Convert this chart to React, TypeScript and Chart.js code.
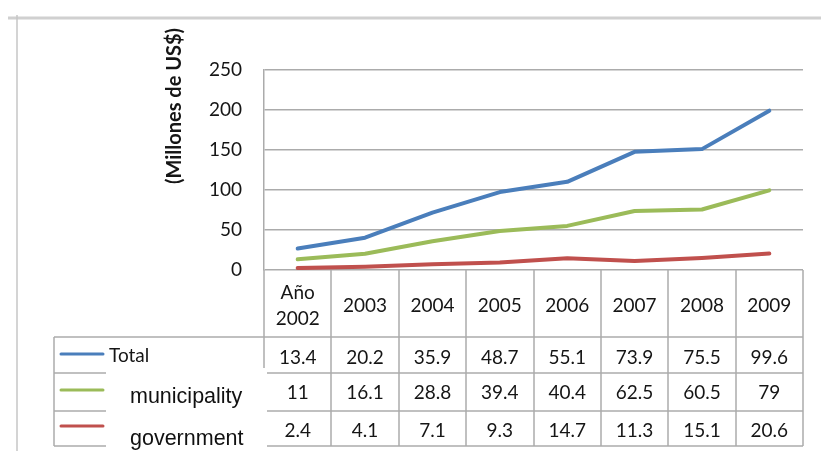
import React, { useEffect, useRef } from "react";
import { Chart, registerables } from "chart.js";

Chart.register(...registerables);

// Categories (first column header spans two lines)
const yearLabels: (string | string[])[] = [["Año", "2002"], "2003", "2004", "2005", "2006", "2007", "2008", "2009"];

// Series values (plotted stacked: government, then municipality, then Total on top)
const totalValues = [13.4, 20.2, 35.9, 48.7, 55.1, 73.9, 75.5, 99.6];
const municipalityValues = [11, 16.1, 28.8, 39.4, 40.4, 62.5, 60.5, 79];
const governmentValues = [2.4, 4.1, 7.1, 9.3, 14.7, 11.3, 15.1, 20.6];

const yTickValues = [0, 50, 100, 150, 200, 250];
const axisTitle = "(Millones de US$)";

const seriesNames = ["Total", "municipality", "government"];
const seriesColors = ["#4A7EBB", "#9BBB59", "#C0504D"];

const TEXT = "#151515";
const GRID = "#ababab";
const NUM_FONT = "Lato, 'Open Sans', sans-serif";
const BOX_FONT = "'Liberation Sans', Arial, sans-serif";

const framePlugin = {
  id: "frameAndTitle",
  beforeDraw(chart: any) {
    const ctx = chart.ctx as CanvasRenderingContext2D;
    ctx.save();
    ctx.fillStyle = "#ffffff";
    ctx.fillRect(0, 0, chart.width, chart.height);
    // outer frame edges
    ctx.strokeStyle = "#d0d0d0";
    ctx.lineWidth = 3;
    ctx.beginPath();
    ctx.moveTo(8, 18);
    ctx.lineTo(chart.width, 18);
    ctx.stroke();
    ctx.strokeStyle = "#c6c6c6";
    ctx.lineWidth = 1.5;
    ctx.beginPath();
    ctx.moveTo(17, 15);
    ctx.lineTo(17, chart.height);
    ctx.stroke();
    // vertical axis title
    ctx.translate(175, 106);
    ctx.rotate(-Math.PI / 2);
    ctx.font = `bold 20px ${NUM_FONT}`;
    ctx.fillStyle = TEXT;
    ctx.textAlign = "center";
    ctx.textBaseline = "middle";
    ctx.fillText(axisTitle, 0, 0);
    ctx.restore();
  },
};

const tablePlugin = {
  id: "dataTable",
  afterDraw(chart: any) {
    const ctx = chart.ctx as CanvasRenderingContext2D;
    const area = chart.chartArea;
    const xs = chart.scales.x;
    const n = yearLabels.length;
    const colW = (area.right - area.left) / n;
    const top = area.bottom;
    const headerBottom = top + 67;
    const rowLines = [headerBottom, headerBottom + 36, headerBottom + 74, headerBottom + 109];
    const legendLeft = 54;
    const tableRows = [totalValues, municipalityValues, governmentValues];
    const valueBaselines = [headerBottom + 27, headerBottom + 62, headerBottom + 100];

    ctx.save();
    ctx.strokeStyle = GRID;
    ctx.lineWidth = 1.5;
    // column borders
    for (let i = 0; i <= n; i++) {
      const bx = Math.round(xs.getPixelForValue(0) - colW / 2 + i * colW);
      ctx.beginPath();
      ctx.moveTo(bx, top);
      ctx.lineTo(bx, rowLines[rowLines.length - 1]);
      ctx.stroke();
    }
    // row borders
    for (const y of rowLines) {
      ctx.beginPath();
      ctx.moveTo(legendLeft, y);
      ctx.lineTo(area.right, y);
      ctx.stroke();
    }
    ctx.beginPath();
    ctx.moveTo(legendLeft, rowLines[0]);
    ctx.lineTo(legendLeft, rowLines[rowLines.length - 1]);
    ctx.stroke();

    // header labels
    ctx.fillStyle = TEXT;
    ctx.textAlign = "center";
    ctx.textBaseline = "alphabetic";
    ctx.font = `19px ${NUM_FONT}`;
    yearLabels.forEach((lab, i) => {
      const cx = xs.getPixelForValue(i);
      if (Array.isArray(lab)) {
        ctx.fillText(lab[0], cx, top + 29);
        ctx.fillText(lab[1], cx, top + 55);
      } else {
        ctx.fillText(lab, cx, top + 42);
      }
    });

    // cell values
    tableRows.forEach((vals, r) => {
      vals.forEach((v, i) => {
        ctx.fillText(String(v), xs.getPixelForValue(i), valueBaselines[r]);
      });
    });

    // legend keys
    const keyY = [354, 390, 426];
    ctx.lineWidth = 3;
    ctx.lineCap = "round";
    seriesColors.forEach((c, r) => {
      ctx.strokeStyle = c;
      ctx.beginPath();
      ctx.moveTo(61, keyY[r]);
      ctx.lineTo(103, keyY[r]);
      ctx.stroke();
    });
    ctx.textAlign = "left";
    ctx.fillStyle = TEXT;
    ctx.font = `19px ${NUM_FONT}`;
    ctx.fillText(seriesNames[0], 109, 362);

    // overlaid text box with the other series names
    ctx.fillStyle = "#ffffff";
    ctx.fillRect(106, 368, 161, chart.height - 368);
    ctx.fillStyle = "#111111";
    ctx.font = `21.5px ${BOX_FONT}`;
    ctx.fillText(seriesNames[1], 130, 403);
    ctx.fillText(seriesNames[2], 130, 445);
    ctx.restore();
  },
};

export default function App() {
  const canvasRef = useRef<HTMLCanvasElement | null>(null);

  useEffect(() => {
    const canvas = canvasRef.current;
    if (!canvas) return;
    const lineStyle = {
      fill: false,
      borderWidth: 4,
      pointRadius: 0,
      pointHoverRadius: 0,
      tension: 0,
      borderCapStyle: "round" as const,
      borderJoinStyle: "round" as const,
    };
    const chart = new Chart(canvas, {
      type: "line",
      data: {
        labels: yearLabels,
        datasets: [
          { label: seriesNames[2], data: governmentValues, borderColor: seriesColors[2], backgroundColor: seriesColors[2], ...lineStyle },
          { label: seriesNames[1], data: municipalityValues, borderColor: seriesColors[1], backgroundColor: seriesColors[1], ...lineStyle },
          { label: seriesNames[0], data: totalValues, borderColor: seriesColors[0], backgroundColor: seriesColors[0], ...lineStyle },
        ],
      },
      options: {
        animation: false,
        responsive: false,
        devicePixelRatio: 1,
        layout: { padding: { left: 0, top: 70, right: 18, bottom: 181 } },
        plugins: { legend: { display: false }, tooltip: { enabled: false } },
        scales: {
          x: { type: "category", display: false, offset: true },
          y: {
            stacked: true,
            min: yTickValues[0],
            max: yTickValues[yTickValues.length - 1],
            afterFit: (s: any) => {
              s.width = 264;
            },
            afterBuildTicks: (s: any) => {
              s.ticks = yTickValues.map((v) => ({ value: v }));
            },
            ticks: {
              padding: 22,
              color: TEXT,
              font: { family: NUM_FONT, size: 19 },
            },
            grid: { color: GRID, lineWidth: 1.5, drawTicks: false },
            border: { display: true, color: GRID, width: 1.5 },
          },
        },
      },
      plugins: [framePlugin, tablePlugin],
    });
    return () => chart.destroy();
  }, []);

  return (
    <div style={{ position: "fixed", left: 0, top: 0, width: 821, height: 451, background: "#fff" }}>
      <canvas ref={canvasRef} width={821} height={451} />
    </div>
  );
}
